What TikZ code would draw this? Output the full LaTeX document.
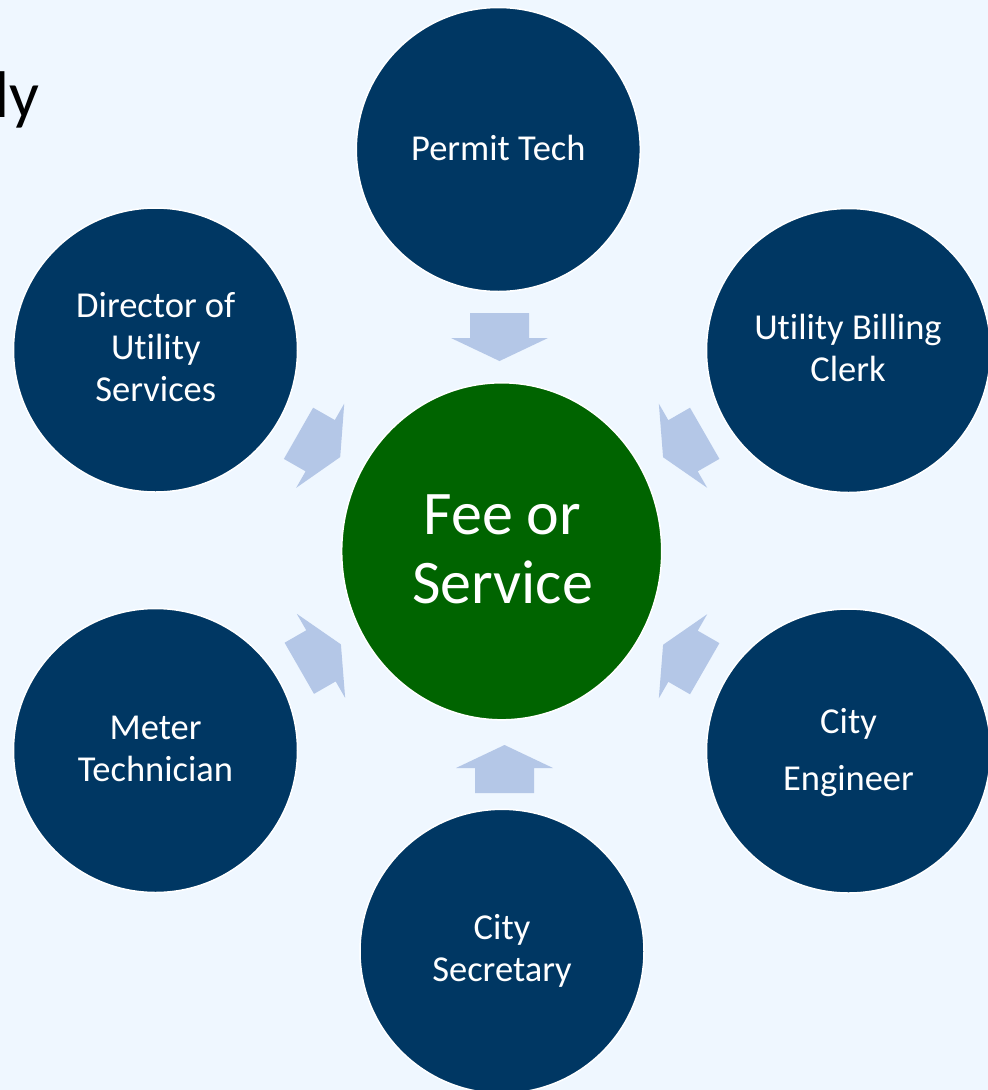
\documentclass[tikz,border=0pt]{standalone}
\usepackage{fontspec}
\setmainfont{Carlito}[Ligatures={NoCommon}]
\usetikzlibrary{shapes.geometric}
\definecolor{bgc}{HTML}{EFF7FF}
\definecolor{navy}{HTML}{003763}
\definecolor{leaf}{HTML}{006400}
\definecolor{arrowc}{HTML}{B4C7E7}
\tikzset{
  bub/.style={circle, fill=navy, draw=white, line width=1.5pt, minimum size=284pt, inner sep=0pt},
  hub/.style={ellipse, fill=leaf, draw=white, line width=1.5pt, minimum width=320pt, minimum height=337pt, inner sep=0pt},
  lbl/.style={text=white, font=\fontsize{36.5}{42}\selectfont, align=center, inner sep=0pt, anchor=base},
  hublbl/.style={text=white, font=\fontsize{62}{69}\selectfont, align=center, inner sep=0pt, anchor=base},
  blockarrow/.pic={\fill[arrowc] (0,-29.5) -- (25,-29.5) -- (25,-48.5) -- (48,0) -- (25,48.5) -- (25,29.5) -- (0,29.5) -- cycle;}
}
\begin{document}
\begin{tikzpicture}[x=1pt,y=-1pt]
\fill[bgc] (0,0) rectangle (988,1090);
\useasboundingbox (0,0) rectangle (988,1090);

% partial title text (cut off at the left edge, as in the reference)
\node[font=\fontsize{66}{70}\selectfont, text=black, inner sep=0pt, anchor=base east] (title) at (40,117) {ly};

% circles
\node[hub] (fee) at (501.7,551.3) {};
\node[bub] (permit) at (498.3,149.5) {};
\node[bub] (billing) at (848.5,350.5) {};
\node[bub] (director) at (155.5,350) {};
\node[bub] (meter) at (155.5,750.5) {};
\node[bub] (engineer) at (848.5,751) {};
\node[bub] (secretary) at (502,951.3) {};

% labels (anchor=base is the baseline of the last line)
\node[hublbl] (feetext) at (502.5,603.3) {Fee or\\Service};
\node[lbl] (permittext) at (498.3,160) {Permit Tech};
\node[lbl] (billingtext) at (848,381.7) {Utility Billing\\Clerk};
\node[lbl] (directortext) at (155.8,401.7) {Director of\\Utility\\Services};
\node[lbl] (metertext) at (155.5,781.7) {Meter\\Technician};
\node[lbl] (engineertext) at (848.5,790) {City\\[15pt]Engineer};
\node[lbl] (secretarytext) at (502,981.7) {City\\Secretary};

% block arrows toward the hub
\pic[rotate=-90] at (499.5,313) {blockarrow};
\pic[rotate=90] at (504.5,793) {blockarrow};
\pic[rotate=-29.7] at (298.5,433.3) {blockarrow};
\pic[rotate=29.9] at (299.3,668.3) {blockarrow};
\pic[rotate=-150.1] at (704.7,433.3) {blockarrow};
\pic[rotate=150.1] at (704.7,668.7) {blockarrow};
\end{tikzpicture}
\end{document}
